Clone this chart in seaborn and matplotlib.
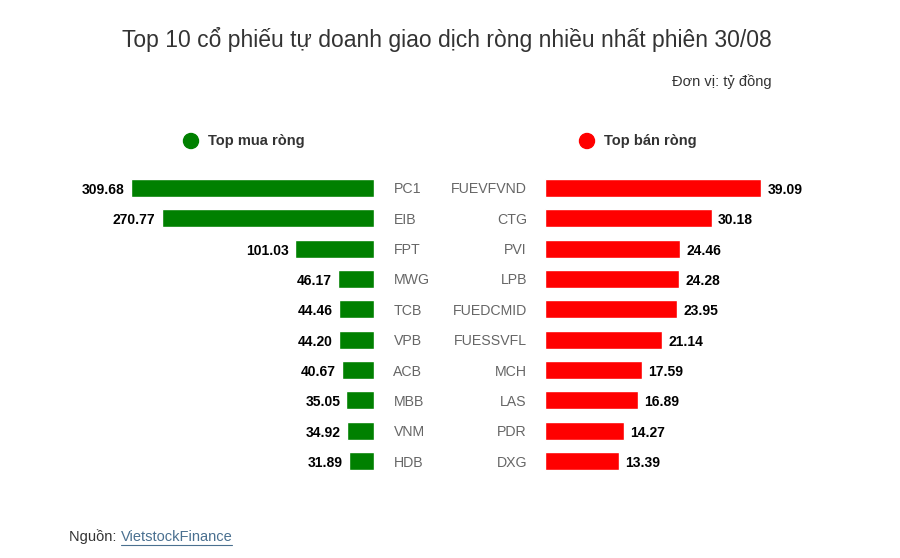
import pandas as pd
import numpy as np
import matplotlib
matplotlib.use("Agg")
import matplotlib.pyplot as plt
import seaborn as sns
from matplotlib.patches import Circle

# du lieu
ma_mua = ["PC1", "EIB", "FPT", "MWG", "TCB", "VPB", "ACB", "MBB", "VNM", "HDB"]
gt_mua = [309.68, 270.77, 101.03, 46.17, 44.46, 44.20, 40.67, 35.05, 34.92, 31.89]
ma_ban = ["FUEVFVND", "CTG", "PVI", "LPB", "FUEDCMID", "FUESSVFL", "MCH", "LAS", "PDR", "DXG"]
gt_ban = [39.09, 30.18, 24.46, 24.28, 23.95, 21.14, 17.59, 16.89, 14.27, 13.39]

tieu_de = "Top 10 cổ phiếu tự doanh giao dịch ròng nhiều nhất phiên 30/08"
don_vi = "Đơn vị: tỷ đồng"

sns.set_style("white")
plt.rcParams["font.family"] = ["Liberation Sans", "DejaVu Sans"]

xanh = "#008000"
do = "#ff0000"
xam = "#666666"

fig = plt.figure(figsize=(9, 5.58), dpi=100)
ax1 = fig.add_axes([131/900, 1-476.2/558, 243/900, 303.4/558])
ax2 = fig.add_axes([545/900, 1-476.2/558, 216/900, 303.4/558])

df_mua = pd.DataFrame({"ma": ma_mua, "gt": gt_mua})
df_ban = pd.DataFrame({"ma": ma_ban, "gt": gt_ban})

sns.barplot(data=df_mua, x="gt", y="ma", color=xanh, saturation=1, width=0.6, ax=ax1, orient="h")
sns.barplot(data=df_ban, x="gt", y="ma", color=do, saturation=1, width=0.6, ax=ax2, orient="h")

ax1.set_xlim(max(gt_mua), 0)
ax2.set_xlim(0, max(gt_ban))

for ax in (ax1, ax2):
    ax.set_xlabel("")
    ax.set_ylabel("")
    ax.set_xticks([])
    ax.set_ylim(len(ma_mua) - 0.5, -0.5)
    for s in ax.spines.values():
        s.set_visible(False)
    ax.tick_params(axis="y", length=0, labelsize=10.2, labelcolor=xam)

ax1.yaxis.tick_right()
ax1.tick_params(axis="y", pad=14)
for lb in ax1.get_yticklabels():
    lb.set_horizontalalignment("left")
ax2.tick_params(axis="y", pad=13)

for i, v in enumerate(gt_mua):
    ax1.annotate(f"{v:.2f}", xy=(v, i), xytext=(-4.5, -1.5), textcoords="offset points",
                 ha="right", va="center", fontsize=10, fontweight="bold", color="black",
                 annotation_clip=False)
for i, v in enumerate(gt_ban):
    ax2.annotate(f"{v:.2f}", xy=(v, i), xytext=(4.5, -1.5), textcoords="offset points",
                 ha="left", va="center", fontsize=10, fontweight="bold", color="black",
                 annotation_clip=False)

# tieu de va chu thich
fig.text(447/900, 1-40/558, tieu_de, ha="center", va="center", fontsize=16.5, color="#333333")
fig.text(772/900, 1-82/558, don_vi, ha="right", va="center", fontsize=10.5, color="#333333")

for cx, mau, nhan in [(191, xanh, "Top mua ròng"), (587, do, "Top bán ròng")]:
    fig.patches.append(Circle((cx, 558-141), 7.5, color=mau, transform=None, figure=fig))
    fig.text((cx+17)/900, 1-141/558, nhan, ha="left", va="center", fontsize=10.5,
             fontweight="bold", color="#333333")

t = fig.text(69/900, 1-537/558, "Nguồn: ", ha="left", va="center", fontsize=10.5, color="#333333")
fig.canvas.draw()
bb = t.get_window_extent()
fig.text(bb.x1/900, 1-537/558, "VietstockFinance", ha="left", va="center", fontsize=10.5,
         color="#4a7090")
fig.canvas.draw()
t2 = fig.texts[-1]
bb2 = t2.get_window_extent()
fig.add_artist(plt.Line2D([bb2.x0/900, bb2.x1/900], [(bb2.y0-1)/558, (bb2.y0-1)/558],
                          color="#4a7090", linewidth=0.8))

fig.savefig("out.png", dpi=100, facecolor="white")
